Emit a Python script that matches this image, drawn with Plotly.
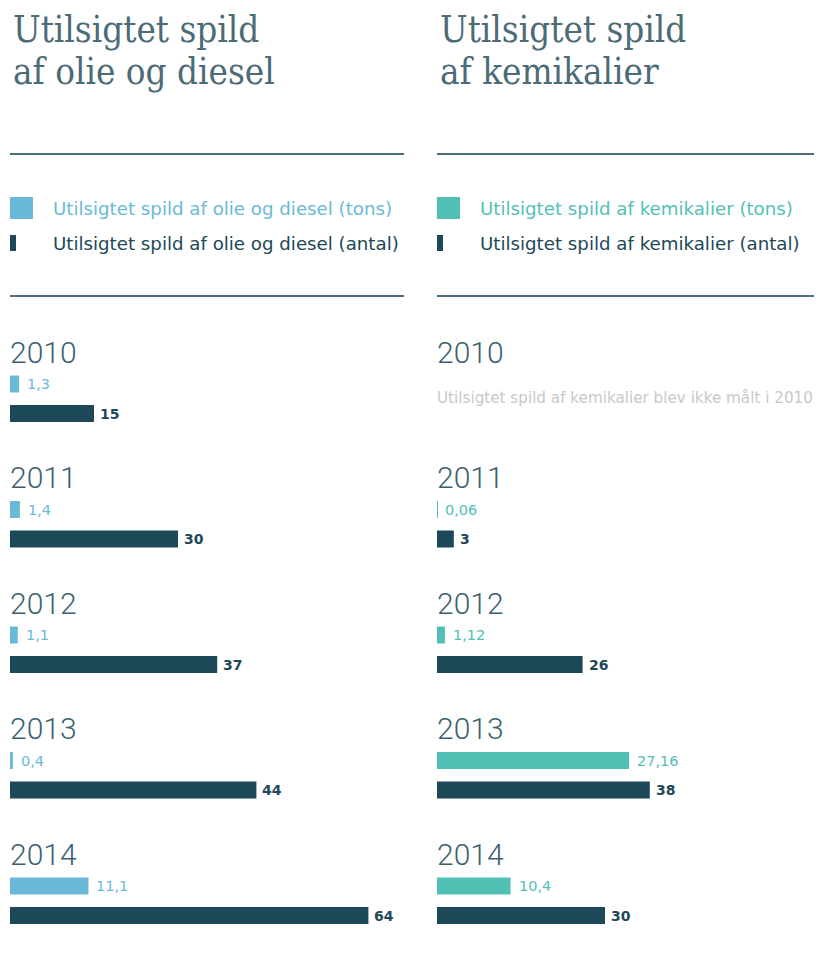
import plotly.graph_objects as go

OFF = 8                 # page body margin
W, H = 822 - OFF, 963 - 2 * OFF

years = ["2010", "2011", "2012", "2013", "2014"]
oil_tons = [1.3, 1.4, 1.1, 0.4, 11.1]
oil_count = [15, 30, 37, 44, 64]
chem_tons = [None, 0.06, 1.12, 27.16, 10.4]
chem_count = [None, 3, 26, 38, 30]

left_title = ["Utilsigtet spild", "af olie og diesel"]
right_title = ["Utilsigtet spild", "af kemikalier"]
left_legend = ["Utilsigtet spild af olie og diesel (tons)", "Utilsigtet spild af olie og diesel (antal)"]
right_legend = ["Utilsigtet spild af kemikalier (tons)", "Utilsigtet spild af kemikalier (antal)"]
chem_note = "Utilsigtet spild af kemikalier blev ikke målt i 2010"

C_DARK = "#1d4857"
C_BLUE = "#6ab9d9"
C_TEAL = "#52c1b5"
C_TITLE = "#4b6b77"
C_YEAR = "#3b6170"
C_LINE = "#4f6d78"
C_NOTE = "#c8c8c8"

SANS = "'DejaVu Sans', Roboto, sans-serif"
YEARF = "Roboto, 'Noto Sans', sans-serif"
SERIF = "'DejaVu Serif Condensed', 'DejaVu Serif', serif"

# pixel geometry helpers (target-page pixels -> paper coords)
def px(x):
    return (x - OFF) / W

def py(y):
    return 1 - (y - OFF) / H

L0, L1 = 10, 404
R0, R1 = 437, 822
PX_COUNT = 5.6   # px per unit (antal)
PX_TONS = 7.07   # px per tons

ROW = 125.5      # px between year blocks
Y0 = 384 - OFF   # figure-pixel centre of first tons bar
y_lo = -Y0 / ROW
y_hi = (H - Y0) / ROW
BAR_W = 17 / ROW
COUNT_OFF = 29.5 / ROW
YEAR_OFF = -32 / ROW

idx = list(range(len(years)))
y_tons = [i for i in idx]
y_count = [i + COUNT_OFF for i in idx]

fig = go.Figure()

def fmt(v):
    return f"{v:g}".replace(".", ",")

def add_panel(tons, count, xt, xc, tcolor):
    fig.add_trace(go.Bar(x=tons, y=y_tons, orientation="h", width=BAR_W,
                         marker=dict(color=tcolor, line=dict(width=0)),
                         xaxis=xt, yaxis="y", showlegend=False, hoverinfo="x"))
    fig.add_trace(go.Bar(x=count, y=y_count, orientation="h", width=BAR_W,
                         marker=dict(color=C_DARK, line=dict(width=0)),
                         xaxis=xc, yaxis="y", showlegend=False, hoverinfo="x"))

add_panel(oil_tons, oil_count, "x", "x2", C_BLUE)
add_panel(chem_tons, chem_count, "x3", "x4", C_TEAL)

ann = []

def value_labels(tons, count, xt, xc, tcolor):
    for i in idx:
        if tons[i] is not None:
            ann.append(dict(x=tons[i], y=y_tons[i], xref=xt, yref="y", text=fmt(tons[i]),
                            xanchor="left", yanchor="middle", xshift=6, showarrow=False,
                            font=dict(family=SANS, size=14.5, color=tcolor)))
        if count[i] is not None:
            ann.append(dict(x=count[i], y=y_count[i], xref=xc, yref="y", text=str(count[i]),
                            xanchor="left", yanchor="middle", xshift=4, showarrow=False,
                            font=dict(family=SANS, size=14, color=C_DARK, weight=700)))

value_labels(oil_tons, oil_count, "x", "x2", C_BLUE)
value_labels(chem_tons, chem_count, "x3", "x4", C_TEAL)

# year labels
for x0 in (L0, R0):
    for i in idx:
        ann.append(dict(x=px(x0 - 2), y=i + YEAR_OFF, xref="paper", yref="y", text=years[i],
                        xanchor="left", yanchor="middle", showarrow=False,
                        font=dict(family=YEARF, size=30, color=C_YEAR, weight=300)))

# 2010 note for chemicals
ann.append(dict(x=px(R0 - 2), y=y_tons[0] + 0.11, xref="paper", yref="y", text=chem_note,
                xanchor="left", yanchor="middle", showarrow=False,
                font=dict(family=SANS, size=15.2, color=C_NOTE)))

# titles
for x0, lines in ((L0, left_title), (R0, right_title)):
    for k, t in enumerate(lines):
        ann.append(dict(x=px(x0 + 1), y=py(30 + 41 * k), xref="paper", yref="paper", text=t,
                        xanchor="left", yanchor="middle", showarrow=False,
                        font=dict(family=SERIF, size=36.5, color=C_TITLE)))

# legends
shapes = []
for x0, x1, texts, c in ((L0, L1, left_legend, C_BLUE), (R0, R1 + 10, right_legend, C_TEAL)):
    shapes.append(dict(type="rect", xref="paper", yref="paper",
                       x0=px(x0), x1=px(x0 + 23), y0=py(197), y1=py(219),
                       fillcolor=c, line=dict(width=0)))
    shapes.append(dict(type="rect", xref="paper", yref="paper",
                       x0=px(x0), x1=px(x0 + 6), y0=py(235), y1=py(251),
                       fillcolor=C_DARK, line=dict(width=0)))
    ann.append(dict(x=px(x0 + 41), y=py(208), xref="paper", yref="paper", text=texts[0],
                    xanchor="left", yanchor="middle", showarrow=False,
                    font=dict(family=SANS, size=18.2, color=c)))
    ann.append(dict(x=px(x0 + 41), y=py(244), xref="paper", yref="paper", text=texts[1],
                    xanchor="left", yanchor="middle", showarrow=False,
                    font=dict(family=SANS, size=18.2, color=C_DARK)))
    for yy in (154, 296):
        shapes.append(dict(type="line", xref="paper", yref="paper",
                           x0=px(x0), x1=px(x1), y0=py(yy), y1=py(yy),
                           line=dict(color=C_LINE, width=2)))

ax_common = dict(visible=False, showgrid=False, zeroline=False, fixedrange=True)
fig.update_layout(
    width=W, height=H,
    margin=dict(l=0, r=0, t=0, b=0),
    paper_bgcolor="white", plot_bgcolor="white",
    barmode="overlay",
    showlegend=False,
    xaxis=dict(domain=[px(L0), px(L1)], range=[0, (L1 - L0) / PX_TONS], anchor="y", **ax_common),
    xaxis2=dict(domain=[px(L0), px(L1)], range=[0, (L1 - L0) / PX_COUNT], anchor="y", overlaying="x", **ax_common),
    xaxis3=dict(domain=[px(R0), px(R1)], range=[0, (R1 - R0) / PX_TONS], anchor="y", **ax_common),
    xaxis4=dict(domain=[px(R0), px(R1)], range=[0, (R1 - R0) / PX_COUNT], anchor="y", overlaying="x3", **ax_common),
    yaxis=dict(domain=[0, 1], range=[y_hi, y_lo], **ax_common),
    annotations=ann,
    shapes=shapes,
)

fig.write_html("out.html")
